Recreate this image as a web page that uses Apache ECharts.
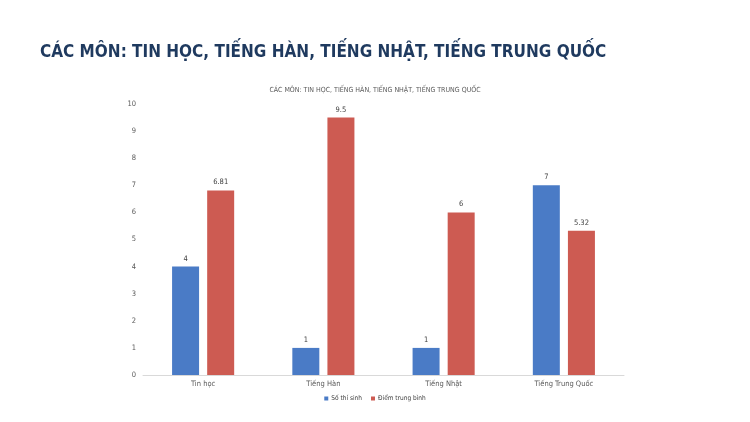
<!DOCTYPE html>
<html><head><meta charset="utf-8">
<script src="https://cdn.jsdelivr.net/npm/echarts@6/dist/echarts.min.js"></script>
<style>html,body{margin:0;padding:0;background:#fff;}#c{width:750px;height:422px;}</style>
</head><body><div id="c"></div>
<script>
const categories = ['Tin học', 'Tiếng Hàn', 'Tiếng Nhật', 'Tiếng Trung Quốc'];
const soThiSinh = [4, 1, 1, 7];
const diemTrungBinh = [6.81, 9.5, 6, 5.32];
const seriesNames = ['Số thí sinh', 'Điểm trung bình'];
const yTicks = [0, 10, 1];
const mainTitle = 'CÁC MÔN: TIN HỌC, TIẾNG HÀN, TIẾNG NHẬT, TIẾNG TRUNG QUỐC';
const chartTitle = 'CÁC MÔN: TIN HỌC, TIẾNG HÀN, TIẾNG NHẬT, TIẾNG TRUNG QUỐC';

const narrow = '"DejaVu Sans Condensed", "Liberation Sans", sans-serif';
const chart = echarts.init(document.getElementById('c'));
chart.setOption({
  backgroundColor: '#ffffff',
  animation: false,
  title: [
    { text: mainTitle, left: 40, top: 44, padding: 0, textStyle: { fontFamily: narrow, fontWeight: 'bold', fontSize: 17, color: '#1F3A5F' } },
    { text: chartTitle, left: 'center', top: 87, padding: 0, textStyle: { fontFamily: narrow, fontWeight: 'normal', fontSize: 7, color: '#595959' } }
  ],
  legend: {
    top: 395, left: 'center', itemWidth: 4, itemHeight: 4, itemGap: 9, icon: 'rect', padding: 0,
    textStyle: { fontFamily: narrow, fontSize: 6.5, color: '#404040', padding: [0, 0, 0, -2] },
    data: seriesNames
  },
  grid: { left: 143, right: 126, top: 104, bottom: 47 },
  xAxis: {
    type: 'category', data: categories,
    axisLine: { lineStyle: { color: '#D9D9D9' } },
    axisTick: { show: false },
    axisLabel: { fontFamily: narrow, fontSize: 7.5, color: '#595959', margin: 5 }
  },
  yAxis: {
    type: 'value', min: yTicks[0], max: yTicks[1], interval: yTicks[2],
    splitLine: { show: false }, axisLine: { show: false }, axisTick: { show: false },
    axisLabel: { fontFamily: narrow, fontSize: 7.5, color: '#595959', margin: 7 }
  },
  series: [
    { name: seriesNames[0], type: 'bar', data: soThiSinh, barWidth: 27, barGap: '30%',
      itemStyle: { color: '#4A7BC6' },
      label: { show: true, position: 'top', fontFamily: narrow, fontSize: 7.5, color: '#404040', distance: 4 } },
    { name: seriesNames[1], type: 'bar', data: diemTrungBinh, barWidth: 27,
      itemStyle: { color: '#CD5B52' },
      label: { show: true, position: 'top', fontFamily: narrow, fontSize: 7.5, color: '#404040', distance: 4 } }
  ]
});
</script></body></html>
